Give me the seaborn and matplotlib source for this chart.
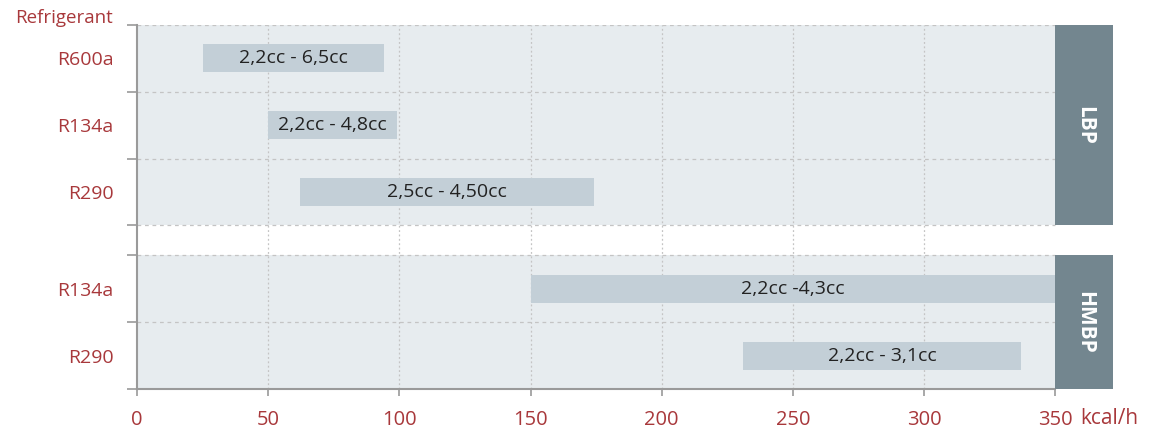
import matplotlib
matplotlib.use("Agg")
import matplotlib.pyplot as plt
import seaborn as sns
import numpy as np

# data
groups = ["LBP", "HMBP"]
refrigerants = [["R600a", "R134a", "R290"], ["R134a", "R290"]]
range_start = [[25, 50, 62], [150, 231]]
range_end = [[94, 99, 174], [350, 337]]
range_labels = [["2,2cc - 6,5cc", "2,2cc - 4,8cc", "2,5cc - 4,50cc"],
                ["2,2cc -4,3cc", "2,2cc - 3,1cc"]]
x_ticks = [0, 50, 100, 150, 200, 250, 300, 350]

RED = "#a8383b"
BAND = "#e7ecef"
BAR = "#c3cfd7"
BOX = "#73868f"
SPINE = "#9a9a9a"
GRID = "#c4c4c4"

sns.set_theme(style="white")
plt.rcParams["font.family"] = ["Open Sans", "DejaVu Sans"]

fig = plt.figure(figsize=(11.6, 4.3), dpi=100)
ax = fig.add_axes([137 / 1160, 1 - 389 / 430, (1113 - 137) / 1160, (389 - 25) / 430])

xmax = 372
gap = 0.45
bar_h = 0.42

# layout positions (top to bottom)
y0 = 0.0
bounds = []
centers, labels = [], []
for gi, grp in enumerate(groups):
    n = len(refrigerants[gi])
    g_top = y0
    g_bot = y0 + n
    # background band of the group
    ax.axhspan(g_top, g_bot, xmin=0, xmax=350 / xmax, color=BAND, zorder=0, lw=0)
    # group label box on the right
    ax.barh((g_top + g_bot) / 2, xmax - 350, left=350, height=n, color=BOX, zorder=3, lw=0)
    ax.text((350 + xmax) / 2, (g_top + g_bot) / 2, grp, rotation=-90, ha="center", va="center",
            color="white", fontsize=15, fontweight="bold", zorder=4)
    for ri in range(n):
        yc = y0 + ri + 0.5
        s, e = range_start[gi][ri], range_end[gi][ri]
        ax.barh(yc, e - s, left=s, height=bar_h, color=BAR, zorder=2, lw=0)
        ax.text((s + e) / 2, yc, range_labels[gi][ri], ha="center", va="center",
                fontsize=14, color="#222222", zorder=3)
        centers.append(yc)
        labels.append(refrigerants[gi][ri])
    bounds.extend([g_top + i for i in range(n + 1)])
    y0 = g_bot + gap

ymax = y0 - gap
ax.set_ylim(ymax, 0)
ax.set_xlim(0, xmax)

# grid lines
for b in bounds:
    ax.plot([0, 350], [b, b], ls=(0, (3, 3)), color=GRID, lw=0.9, zorder=1)
for xv in x_ticks[1:-1]:
    ax.axvline(xv, ls=(0, (1.5, 2)), color=GRID, lw=0.9, zorder=1)

# y ticks: marks at boundaries, labels at row centers
ax.set_yticks(bounds)
ax.set_yticklabels([])
ax.set_yticks(centers, minor=True)
ax.set_yticklabels(labels, minor=True)
ax.tick_params(axis="y", which="major", left=True, length=7, width=1.2, color=SPINE)
ax.tick_params(axis="y", which="minor", left=True, length=0, pad=17, labelsize=14, labelcolor=RED)

ax.set_xticks(x_ticks)
ax.set_xticklabels([str(v) for v in x_ticks])
ax.tick_params(axis="x", bottom=True, length=5, width=1.2, color=SPINE, pad=10,
               labelsize=14.5, labelcolor=RED)

for side in ["top", "right"]:
    ax.spines[side].set_visible(False)
ax.spines["left"].set_color(SPINE)
ax.spines["left"].set_linewidth(1.5)
ax.spines["bottom"].set_color(SPINE)
ax.spines["bottom"].set_linewidth(1.5)
ax.spines["bottom"].set_bounds(0, 350)
ax.set_facecolor("white")

fig.text(113 / 1160, 1 - 18 / 430, "Refrigerant", ha="right", va="center", fontsize=13.5, color=RED)
fig.text(1080 / 1160, 1 - 418 / 430, "kcal/h", ha="left", va="center", fontsize=15, color=RED)

fig.savefig("out.png", dpi=100)
